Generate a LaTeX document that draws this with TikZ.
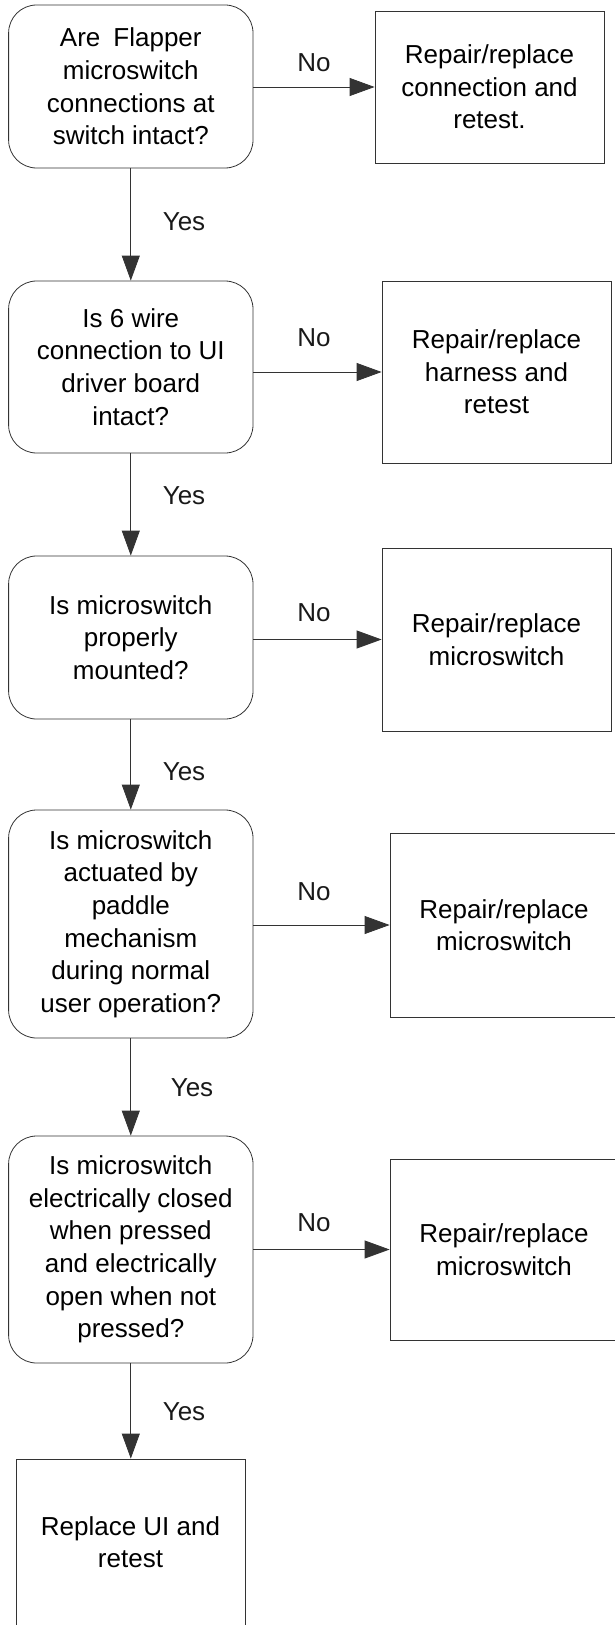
\documentclass[tikz,border=0pt]{standalone}
\usepackage{fontspec}
\setmainfont{Liberation Sans}
\usepackage{tikz}
\usetikzlibrary{arrows.meta, positioning}

\begin{document}
\begin{tikzpicture}[
    x=0.5pt, y=-0.5pt,
    font=\fontsize{13}{16.3}\selectfont,
    tanya/.style={draw=black!80, rounded corners=14pt, minimum width=122.2pt,
                  align=center, inner sep=2pt},
    kotak/.style={draw=black!80, minimum width=114.5pt, align=center},
    panah/.style={-{Triangle[length=12.5pt, width=9pt]}, draw=black!80},
    ket/.style={text=black!90}
  ]
    \useasboundingbox (0,0) rectangle (615,1627);
    \clip (0,0) rectangle (615,1624);

    \node[tanya, minimum height=81.5pt] (cek1) at (130.8,86.5) {Are\enspace Flapper\\microswitch\\connections at\\switch intact?};
    \node[tanya, minimum height=86pt] (cek2) at (130.8,367) {Is 6 wire\\connection to UI\\driver board\\intact?};
    \node[tanya, minimum height=81.5pt] (cek3) at (130.8,637.5) {Is microswitch\\properly\\mounted?};
    \node[tanya, minimum height=114pt] (cek4) at (130.8,924) {Is microswitch\\actuated by\\paddle\\mechanism\\during normal\\user operation?};
    \node[tanya, minimum height=113.5pt] (cek5) at (130.8,1249.5) {Is microswitch\\electrically closed\\when pressed\\and electrically\\open when not\\pressed?};

    \node[kotak, minimum height=76pt] (baik1) at (489.5,87) {Repair/replace\\connection and\\retest.};
    \node[kotak, minimum height=91pt] (baik2) at (496.5,372) {Repair/replace\\harness and\\retest};
    \node[kotak, minimum height=91.5pt] (baik3) at (496.5,639.5) {Repair/replace\\microswitch};
    \node[kotak, minimum width=114pt, minimum height=92pt] (baik4) at (504,925) {Repair/replace\\microswitch};
    \node[kotak, minimum width=114pt, minimum height=90.5pt] (baik5) at (504,1249.5) {Repair/replace\\microswitch};
    \node[kotak, minimum height=83pt] (ganti) at (130.5,1542) {Replace UI and\\retest};

    \draw[panah] (cek1) -- (cek2);
    \draw[panah] (cek2) -- (cek3);
    \draw[panah] (cek3) -- (cek4);
    \draw[panah] (cek4) -- (cek5);
    \draw[panah] (cek5.south) -- (ganti.north -| cek5.south);

    \draw[panah] (baik1.west -| cek1.east) -- (baik1.west);
    \draw[panah] (baik2.west -| cek2.east) -- (baik2.west);
    \draw[panah] (baik3.west -| cek3.east) -- (baik3.west);
    \draw[panah] (baik4.west -| cek4.east) -- (baik4.west);
    \draw[panah] (baik5.west -| cek5.east) -- (baik5.west);

    \node[ket] (no1) at (314,63) {No};
    \node[ket] (no2) at (314,338) {No};
    \node[ket] (no3) at (314,613) {No};
    \node[ket] (no4) at (314,892) {No};
    \node[ket] (no5) at (314,1223) {No};
    \node[ket] (ya1) at (184,222) {Yes};
    \node[ket] (ya2) at (184,496) {Yes};
    \node[ket] (ya3) at (184,772) {Yes};
    \node[ket] (ya4) at (192,1088) {Yes};
    \node[ket] (ya5) at (184,1412) {Yes};
  \end{tikzpicture}
\end{document}
